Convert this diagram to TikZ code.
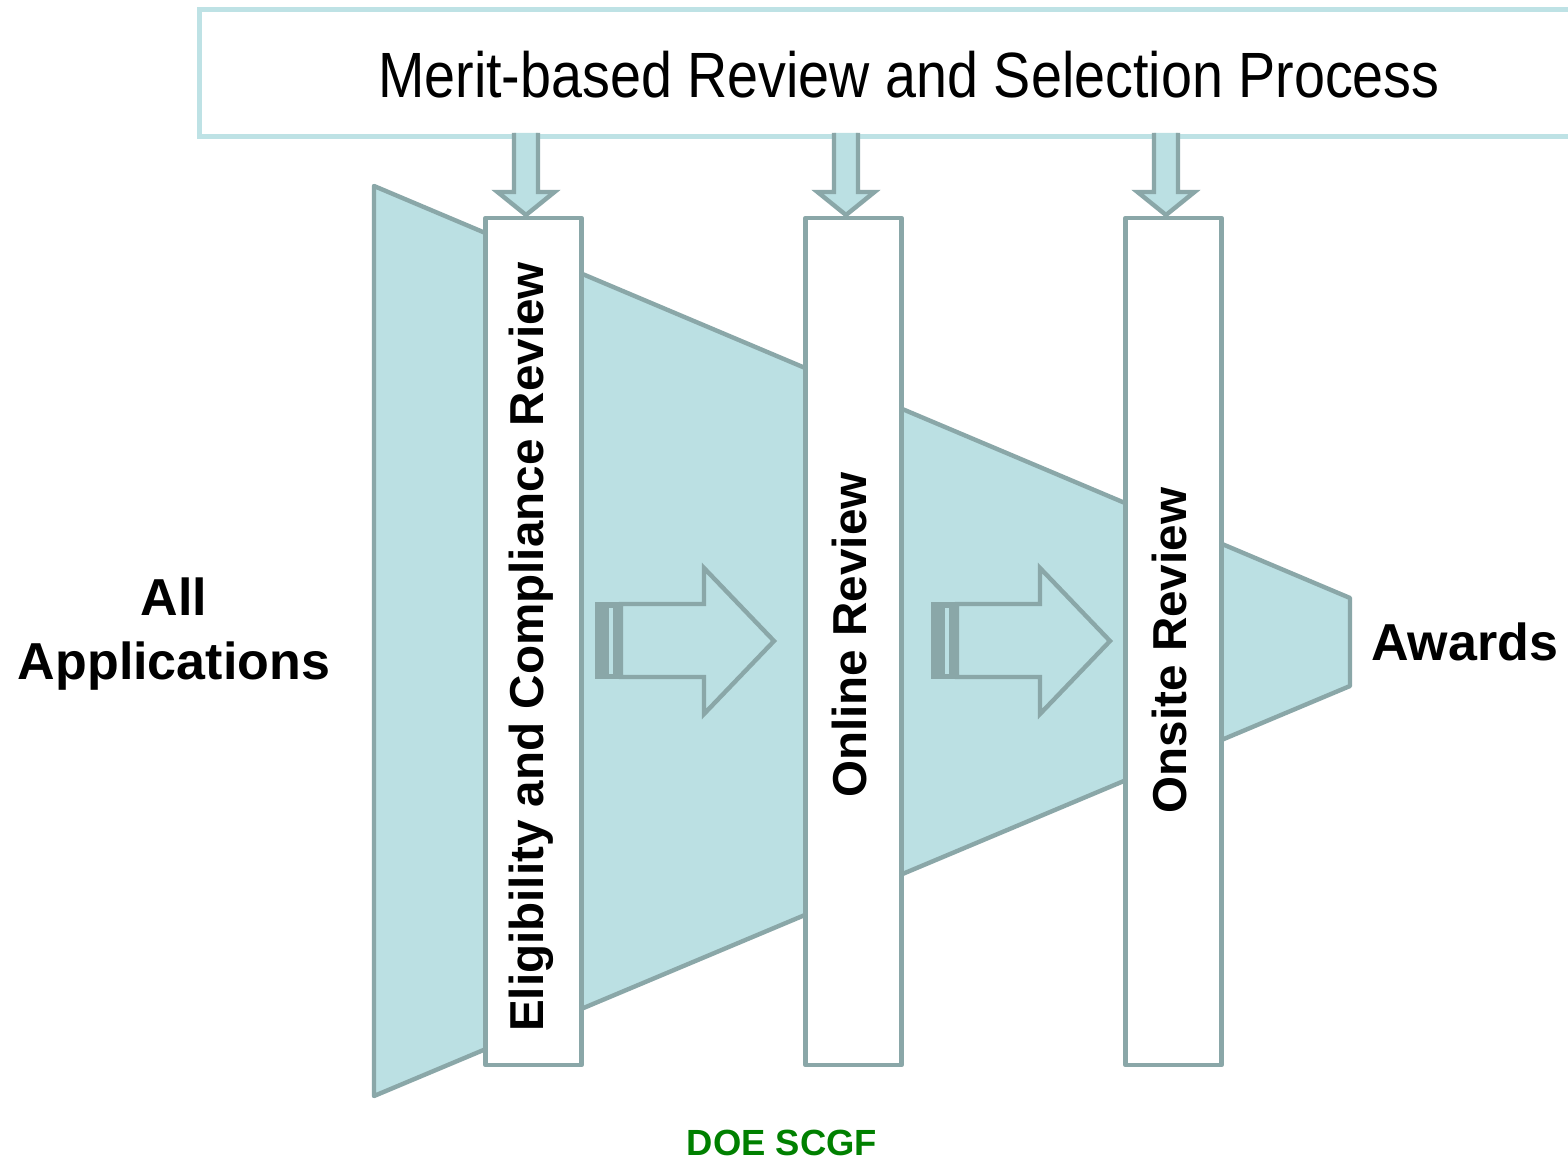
\documentclass[tikz,border=0pt]{standalone}
\usepackage{fontspec}
\setmainfont{Liberation Sans}
\definecolor{fillc}{RGB}{187,224,227}
\definecolor{strokec}{RGB}{138,167,168}
\definecolor{headc}{RGB}{190,226,229}
\definecolor{doegreen}{RGB}{0,128,0}
\begin{document}
\begin{tikzpicture}[x=0.5pt,y=-0.5pt,
  stagebox/.style={draw=strokec, line width=2.2pt, fill=white, inner sep=0pt,
    minimum width=48pt, minimum height=423.5pt, line join=round},
  stagelabel/.style={rotate=90, anchor=base, font=\bfseries\fontsize{23.8}{28}\selectfont},
  biglabel/.style={font=\bfseries\fontsize{26}{32}\selectfont},
  outline/.style={draw=strokec, line width=2.2pt, line join=miter},
]
\clip (0,0) rectangle (1568,1160);
\fill[white] (0,0) rectangle (1568,1160);

% header
\node[draw=headc, line width=2.5pt, minimum width=700.5pt, minimum height=63.75pt, inner sep=0pt] (header) at (899.5,73.25) {};
\node[anchor=base, font=\fontsize{32}{38}\selectfont] (title) at (909,98) {\scalebox{0.87}[1]{Merit-based Review and Selection Process}};

% funnel
\draw[outline, fill=fillc, line join=round] (374,186) -- (1350,598) -- (1350,686) -- (374,1096) -- cycle;

% hollow striped arrows
\foreach \dx/\nm in {0/h1,336/h2}{
  \begin{scope}[xshift=\dx*0.5pt]
    \fill[strokec] (595,602) rectangle (623,679);
    \fill[fillc] (609,608) rectangle (613,674);
    \draw[outline, fill=fillc] (621,604) -- (704,604) -- (704,568) -- (774,641) -- (704,714) -- (704,677) -- (621,677) -- cycle;
    \coordinate (\nm) at (774,641);
  \end{scope}
}

% stage boxes
\node[stagebox] (s1) at (533.5,641.5) {};
\node[stagebox] (s2) at (853.5,641.5) {};
\node[stagebox] (s3) at (1173.5,641.5) {};

\node[stagelabel] (l1) at (543,647) {Eligibility and Compliance Review};
\node[stagelabel] (l2) at (866,635) {Online Review};
\node[stagelabel] (l3) at (1186,650.5) {Onsite Review};

% down arrows from header to stages
\foreach \cx/\b in {526/s1,846/s2,1166/s3}{
  \fill[fillc] (\cx-12,133) -- (\cx-12,192) -- (\cx-28.5,192) -- (\cx,215) -- (\cx+28.5,192) -- (\cx+12,192) -- (\cx+12,133) -- cycle;
  \draw[outline] (\cx-12,133) -- (\cx-12,192) -- (\cx-28.5,192) -- (\cx,215) -- (\cx+28.5,192) -- (\cx+12,192) -- (\cx+12,133);
}

% side labels
\node[biglabel, align=center] (all) at (174,634) {All\\Applications};
\node[biglabel, anchor=base] (awards) at (1464.5,660) {Awards};

\node[anchor=base, text=doegreen, font=\bfseries\fontsize{18.2}{22}\selectfont] (doe) at (782,1155) {DOE SCGF};
\end{tikzpicture}
\end{document}
